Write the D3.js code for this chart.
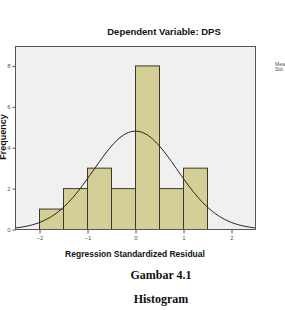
<!DOCTYPE html>
<html>
<head>
<meta charset="utf-8">
<script src="https://cdn.jsdelivr.net/npm/d3@7"></script>
<style>
  body { margin: 0; background: #fff; }
  svg { display: block; }
</style>
</head>
<body>
<svg id="chart" width="285" height="310"></svg>
<script>
// histogram of standardized residuals, SPSS style

var binStarts = [-2, -1.5, -1, -0.5, 0, 0.5, 1];
var binWidth = 0.5;
var counts = [1, 2, 3, 2, 8, 2, 3];
var xTicks = [-2, -1, 0, 1, 2];
var yTicks = [0, 2, 4, 6, 8];
var curveMean = 0;
var curveStdDev = 0.87;
var curveN = 21;

var svg = d3.select("#chart");

var box = {left: 15.5, right: 255.5, top: 46.5, bottom: 229.5};

var x = d3.scaleLinear().domain([-2.5, 2.5]).range([box.left, box.right]);
var y = d3.scaleLinear().domain([0, 8.95]).range([box.bottom, box.top]);

// plot background
svg.append("rect")
    .attr("x", box.left).attr("y", box.top)
    .attr("width", box.right - box.left).attr("height", box.bottom - box.top)
    .attr("fill", "#f0f0f0");

// bars
svg.selectAll("rect.bar")
    .data(counts)
  .enter().append("rect")
    .attr("class", "bar")
    .attr("x", function(d, i){ return x(binStarts[i]); })
    .attr("y", function(d){ return y(d); })
    .attr("width", function(d, i){ return x(binStarts[i] + binWidth) - x(binStarts[i]); })
    .attr("height", function(d){ return y(0) - y(d); })
    .attr("fill", "#d3cf97")
    .attr("stroke", "#3a3a2a")
    .attr("stroke-width", 1);

// normal curve from mean / std dev
var peak = curveN * binWidth / (curveStdDev * Math.sqrt(2 * Math.PI));
var curvePts = d3.range(-2.5, 2.5001, 0.05).map(function(v){
    var z = (v - curveMean) / curveStdDev;
    return [v, peak * Math.exp(-0.5 * z * z)];
});

svg.append("path")
    .datum(curvePts)
    .attr("fill", "none")
    .attr("stroke", "#222")
    .attr("stroke-width", 1)
    .attr("d", d3.line()
        .x(function(d){ return x(d[0]); })
        .y(function(d){ return y(d[1]); })
        .curve(d3.curveBasis));

// frame
svg.append("rect")
    .attr("x", box.left).attr("y", box.top)
    .attr("width", box.right - box.left).attr("height", box.bottom - box.top)
    .attr("fill", "none")
    .attr("stroke", "#555")
    .attr("stroke-width", 1);

// axes
var xAxis = svg.append("g")
    .attr("transform", "translate(0," + box.bottom + ")")
    .call(d3.axisBottom(x).tickValues(xTicks).tickFormat(d3.format("d"))
        .tickSize(4).tickPadding(2).tickSizeOuter(0));
var yAxis = svg.append("g")
    .attr("transform", "translate(" + box.left + ",0)")
    .call(d3.axisLeft(y).tickValues(yTicks).tickFormat(d3.format("d"))
        .tickSize(3).tickPadding(2).tickSizeOuter(0));

[xAxis, yAxis].forEach(function(a){
    a.select(".domain").remove();
    a.selectAll(".tick line").attr("stroke", "#555");
    a.selectAll(".tick text")
        .attr("fill", "#555")
        .style("font-family", "Arial, 'Liberation Sans', sans-serif")
        .style("font-size", "6px");
});

// titles
svg.append("text")
    .attr("x", 164).attr("y", 35)
    .attr("text-anchor", "middle")
    .style("font-family", "Arial, 'Liberation Sans', sans-serif")
    .style("font-weight", "bold")
    .style("font-size", "9.5px")
    .attr("fill", "#111")
    .text("Dependent Variable: DPS");

svg.append("text")
    .attr("transform", "translate(6,137) rotate(-90)")
    .attr("text-anchor", "middle")
    .style("font-family", "Arial, 'Liberation Sans', sans-serif")
    .style("font-weight", "bold")
    .style("font-size", "9px")
    .attr("fill", "#111")
    .text("Frequency");

svg.append("text")
    .attr("x", 135).attr("y", 257)
    .attr("text-anchor", "middle")
    .style("font-family", "Arial, 'Liberation Sans', sans-serif")
    .style("font-weight", "bold")
    .style("font-size", "8.5px")
    .attr("fill", "#111")
    .text("Regression Standardized Residual");

// legend (cut off at right edge, as in the source)
svg.append("text")
    .attr("x", 275).attr("y", 66)
    .style("font-family", "Arial, 'Liberation Sans', sans-serif")
    .style("font-size", "5px")
    .attr("fill", "#555")
    .text("Mean = 0");
svg.append("text")
    .attr("x", 275).attr("y", 71)
    .style("font-family", "Arial, 'Liberation Sans', sans-serif")
    .style("font-size", "5px")
    .attr("fill", "#555")
    .text("Std. Dev. = 0.87");

// caption
svg.append("text")
    .attr("x", 161).attr("y", 279)
    .attr("text-anchor", "middle")
    .style("font-family", "'Liberation Serif', 'Times New Roman', serif")
    .style("font-weight", "bold")
    .style("font-size", "12px")
    .attr("fill", "#111")
    .text("Gambar 4.1");

svg.append("text")
    .attr("x", 161).attr("y", 303)
    .attr("text-anchor", "middle")
    .style("font-family", "'Liberation Serif', 'Times New Roman', serif")
    .style("font-weight", "bold")
    .style("font-size", "12px")
    .attr("fill", "#111")
    .text("Histogram");
</script>
</body>
</html>
